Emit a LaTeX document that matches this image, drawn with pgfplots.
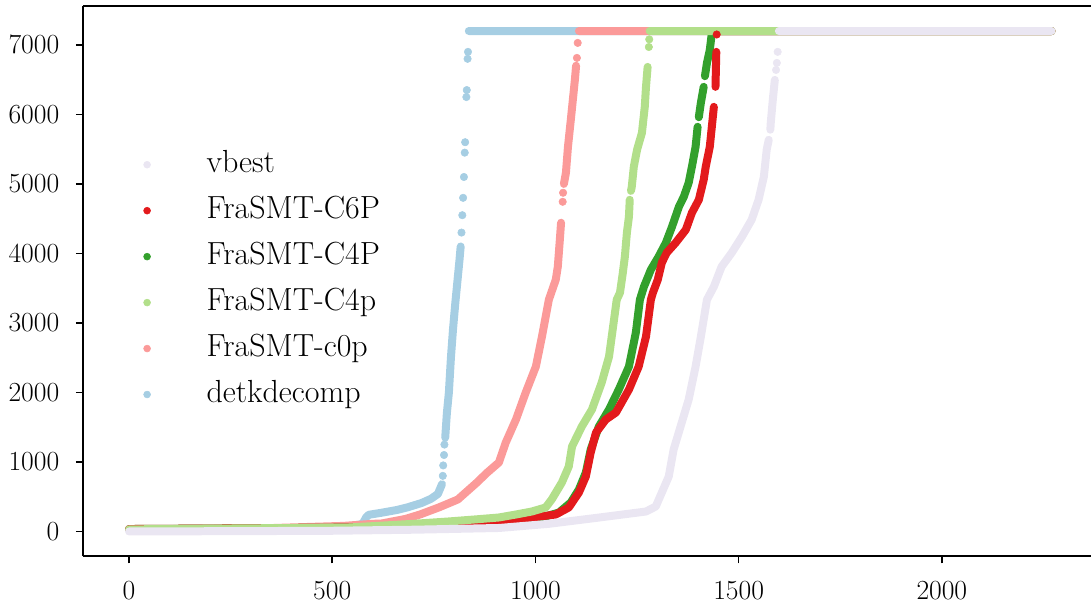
\documentclass[border=0pt]{standalone}
\usepackage{pgfplots}
\pgfplotsset{compat=1.18}
\definecolor{cvbest}{RGB}{234,230,242}
\definecolor{cred}{RGB}{227,26,28}
\definecolor{cdg}{RGB}{51,160,44}
\definecolor{clg}{RGB}{178,223,138}
\definecolor{cpink}{RGB}{251,154,153}
\definecolor{cblue}{RGB}{166,206,227}
\pgfplotsset{
  band/.style={line width=6pt, line cap=round, line join=round, no markers, forget plot},
  dots/.style={only marks, mark=*, mark size=2.8pt, forget plot},
}
\begin{document}
\begin{tikzpicture}
\begin{axis}[
  scale only axis, width=756.75pt, height=413.25pt,
  xmin=-113.5, xmax=2367, ymin=-360, ymax=7560,
  axis x line*=bottom, axis y line*=left,
  axis line style={line width=1.5pt},
  xtick={0,500,1000,1500,2000}, ytick={0,1000,2000,3000,4000,5000,6000,7000},
  tick align=outside, major tick length=5.25pt,
  tick style={line width=1.2pt, black},
  ticklabel style={font=\fontsize{20}{24}\selectfont},
  yticklabel style={xshift=-9pt},
  xticklabel style={yshift=-10pt},
  scaled ticks=false,
  /pgf/number format/1000 sep={},
  unbounded coords=jump,
  clip=false,
  legend style={at={(0.056,0.7436)}, anchor=north west, draw=none, fill=none,
    font=\fontsize{24}{28}\selectfont, row sep=12.5pt,
    nodes={inner sep=0pt, text height=17pt, text depth=5pt},
    /tikz/every odd column/.append style={column sep=42pt}},
  legend cell align=left,
]
\addlegendimage{only marks, mark=*, mark size=2.6pt, color=cvbest}
\addlegendimage{only marks, mark=*, mark size=2.6pt, color=cred}
\addlegendimage{only marks, mark=*, mark size=2.6pt, color=cdg}
\addlegendimage{only marks, mark=*, mark size=2.6pt, color=clg}
\addlegendimage{only marks, mark=*, mark size=2.6pt, color=cpink}
\addlegendimage{only marks, mark=*, mark size=2.6pt, color=cblue}
\legend{vbest,FraSMT-C6P,FraSMT-C4P,FraSMT-C4p,FraSMT-c0p,detkdecomp}

% detkdecomp
\addplot[band, color=cblue] coordinates {
(0,20) (200,30) (400,40) (500,55) (550,80) (575,110) (583,200) (590,240) (622,270) (660,310) (687,350) (720,410) (743,470) (760,540) (770,680)
(771,nan)
(778,1350) (782,1700) (787,2000) (792,2500) (797,2900) (803,3300) (808,3600) (813,3900) (816,4100)
(817,nan)
(836,7200) (2270,7200)
};
\addplot[dots, color=cblue] coordinates {
(772,800) (773,950) (775,1100) (776,1250) (818,4300) (820,4550) (822,4800) (824,5100) (826,5450) (827,5600) (830,6250) (831,6350) (833,6800) (834,6900)
};
% FraSMT-c0p
\addplot[band, color=cpink] coordinates {
(0,25) (300,40) (527,80) (600,110) (622,115) (680,180) (716,244) (762,345) (809,460) (856,704) (880,840) (910,992) (927,1280) (952,1610) (976,1998) (1001,2372) (1016,2803) (1033,3335) (1050,3622) (1055,3809) (1060,4197) (1063,4442)
(1064,nan)
(1070,5000) (1075,5160) (1080,5534) (1087,5922) (1092,6209) (1097,6497) (1100,6700)
(1101,nan)
(1107,7200) (2270,7200)
};
\addplot[dots, color=cpink] coordinates {(1067,4743) (1068,4873) (1102,6813) (1104,7029)};
% FraSMT-C4P
\addplot[band, color=cdg] coordinates {
(0,35) (300,45) (541,55) (700,80) (910,144) (952,172) (1016,201) (1058,273) (1087,417) (1107,604) (1124,848) (1136,1179) (1156,1509) (1181,1754) (1205,2041) (1230,2372) (1247,2860) (1257,3335) (1267,3522) (1284,3766) (1303,3953) (1321,4154) (1336,4384) (1353,4672) (1365,4815) (1377,5016) (1385,5247) (1394,5534) (1399,5822)
(1400,nan)
(1402,5960) (1407,6166) (1414,6397)
(1415,nan)
(1417,6550) (1422,6741) (1429,6928) (1434,7172)
(1435,nan)
(1436,7200) (2270,7200)
};
% FraSMT-C6P
\addplot[band, color=cred] coordinates {
(0,35) (300,45) (541,55) (700,80) (910,144) (991,201) (1050,244) (1082,345) (1107,561) (1124,791) (1136,1136) (1149,1423) (1173,1610) (1198,1711) (1230,2041) (1254,2372) (1272,2803) (1284,3335) (1289,3435) (1301,3622) (1311,3867) (1323,4010) (1345,4154) (1370,4341) (1385,4585) (1402,4772) (1414,5060) (1419,5247) (1429,5534) (1434,5822) (1439,6109)
(1440,nan)
(1443,6397) (1444,6650) (1445,6900)
(1446,nan)
(1447,7200) (2270,7200)
};
\addplot[dots, color=cred] coordinates {(1446,7150)};
% FraSMT-C4p
\addplot[band, color=clg] coordinates {
(0,30) (300,45) (541,57) (700,110) (787,144) (856,175) (910,201) (952,244) (991,287) (1025,345) (1040,460) (1065,704) (1082,934) (1090,1222) (1114,1509) (1139,1754) (1163,2142) (1181,2515) (1200,3335) (1208,3435) (1215,3723) (1220,3953) (1225,4298) (1230,4528) (1232,4772)
(1233,nan)
(1235,4900) (1237,4959) (1242,5247) (1250,5491) (1262,5735) (1269,6109) (1272,6397) (1276,6684)
(1277,nan)
(1281,7200) (2270,7200)
};
\addplot[dots, color=clg] coordinates {(1279,6970) (1280,7080)};
% vbest
\addplot[band, color=cvbest] coordinates {
(0,0) (300,5) (500,10) (700,25) (910,50) (1033,110) (1156,200) (1272,287) (1296,359) (1311,561) (1328,791) (1340,1179) (1360,1567) (1377,1897) (1394,2372) (1407,2803) (1422,3335) (1439,3522) (1458,3809) (1483,4010) (1508,4240) (1532,4485) (1549,4772) (1562,5103) (1569,5491) (1574,5635)
(1576,nan)
(1578,5780) (1579,5879) (1584,6209) (1589,6497)
(1590,nan)
(1599,7200) (2270,7200)
};
\addplot[dots, color=cvbest] coordinates {(1592,6640) (1594,6741) (1596,6900)};
\end{axis}
\draw[line width=1.5pt] (current axis.north west) -- (current axis.north east);
\path (current axis.south west) ++(-62.25pt,-36pt);
\path (current axis.north east) ++(0,4.5pt);
\end{tikzpicture}
\end{document}
